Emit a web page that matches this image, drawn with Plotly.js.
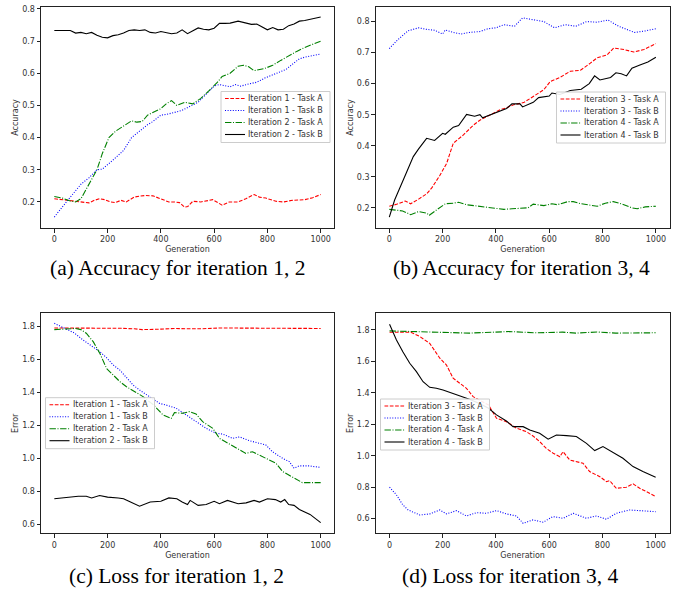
<!DOCTYPE html>
<html><head><meta charset="utf-8">
<script src="https://cdn.plot.ly/plotly-3.0.1.min.js"></script>
<style>body{margin:0;background:#fff}#chart{width:681px;height:590px}</style>
</head><body><div id="chart"></div>
<script>
// ---------- Panel (a): Accuracy, iterations 1 & 2 ----------
const a_i1A_x = [0,30,60,80,100,130,150,170,190,210,230,250,270,300,320,340,370,408,430,450,470,489,501,520,550,595,630,657,690,719,750,770,794,832,860,894,940,970,1000];
const a_i1A_y = [0.21,0.207,0.203,0.2,0.2,0.197,0.205,0.21,0.207,0.2,0.198,0.205,0.2,0.215,0.218,0.22,0.219,0.207,0.2,0.2,0.198,0.184,0.186,0.202,0.2,0.207,0.19,0.2,0.2,0.21,0.223,0.215,0.212,0.202,0.2,0.205,0.207,0.213,0.223];
const a_i1B_x = [0,20,50,80,100,130,160,180,200,220,240,260,290,320,350,370,400,420,440,460,480,510,540,570,600,620,640,660,680,700,730,760,790,810,840,870,900,920,940,970,1000];
const a_i1B_y = [0.153,0.175,0.205,0.235,0.255,0.275,0.3,0.302,0.315,0.33,0.345,0.36,0.4,0.42,0.44,0.45,0.47,0.472,0.475,0.48,0.485,0.497,0.51,0.535,0.56,0.565,0.562,0.558,0.565,0.56,0.567,0.572,0.585,0.592,0.6,0.612,0.632,0.645,0.65,0.655,0.66];
const a_i2A_x = [0,30,60,80,100,130,160,180,205,230,260,290,310,330,350,370,400,420,440,460,490,520,550,580,610,630,660,690,710,730,750,790,820,850,880,910,940,970,1000];
const a_i2A_y = [0.217,0.212,0.203,0.2,0.21,0.255,0.3,0.35,0.4,0.42,0.435,0.452,0.448,0.45,0.47,0.478,0.49,0.505,0.515,0.5,0.51,0.505,0.522,0.545,0.57,0.59,0.6,0.622,0.625,0.62,0.608,0.615,0.625,0.64,0.655,0.668,0.68,0.69,0.7];
const a_i2B_x = [0,60,80,100,120,140,160,180,200,220,240,260,280,300,320,340,360,380,400,420,440,460,480,500,520,540,560,580,600,620,640,660,690,720,740,760,780,800,820,840,860,880,900,920,940,960,980,1000];
const a_i2B_y = [0.733,0.733,0.725,0.727,0.723,0.727,0.718,0.712,0.71,0.717,0.72,0.725,0.733,0.735,0.733,0.735,0.727,0.725,0.73,0.727,0.723,0.725,0.735,0.723,0.733,0.741,0.737,0.735,0.74,0.755,0.755,0.756,0.762,0.757,0.752,0.753,0.745,0.735,0.742,0.735,0.737,0.748,0.753,0.762,0.764,0.767,0.771,0.775];

// ---------- Panel (b): Accuracy, iterations 3 & 4 ----------
const b_i3A_x = [0,30,60,80,110,140,160,190,215,240,278,316,341,378,416,440,466,504,541,579,604,642,679,717,754,779,817,842,880,917,955,1000];
const b_i3A_y = [0.205,0.212,0.222,0.213,0.228,0.245,0.265,0.305,0.343,0.408,0.435,0.467,0.483,0.5,0.516,0.522,0.532,0.539,0.559,0.58,0.607,0.621,0.64,0.643,0.666,0.683,0.693,0.715,0.71,0.702,0.71,0.729];
const b_i3B_x = [0,30,70,110,140,170,200,210,240,270,300,340,370,400,430,470,500,540,580,620,660,700,740,780,820,860,900,920,960,1000];
const b_i3B_y = [0.713,0.74,0.77,0.78,0.775,0.772,0.76,0.773,0.765,0.76,0.765,0.768,0.777,0.78,0.79,0.785,0.812,0.805,0.8,0.78,0.79,0.785,0.8,0.798,0.805,0.785,0.77,0.765,0.77,0.777];
const b_i4A_x = [0,50,80,110,140,150,180,210,240,260,290,340,380,400,430,460,500,520,540,580,610,630,670,690,720,750,780,810,840,870,910,930,960,1000];
const b_i4A_y = [0.195,0.19,0.178,0.188,0.183,0.176,0.195,0.213,0.215,0.218,0.21,0.205,0.2,0.2,0.195,0.197,0.2,0.2,0.212,0.207,0.213,0.21,0.22,0.22,0.213,0.21,0.205,0.215,0.22,0.213,0.2,0.197,0.203,0.205];
const b_i4B_x = [0,20,60,90,110,140,170,200,210,240,260,290,320,340,350,380,410,440,460,490,500,540,560,600,610,640,679,720,750,770,790,810,830,850,870,890,910,940,970,1000];
const b_i4B_y = [0.17,0.225,0.305,0.365,0.39,0.424,0.417,0.44,0.437,0.46,0.465,0.501,0.495,0.5,0.49,0.5,0.51,0.52,0.535,0.535,0.525,0.54,0.555,0.56,0.57,0.565,0.578,0.582,0.6,0.625,0.612,0.615,0.62,0.635,0.632,0.625,0.65,0.66,0.67,0.685];

// ---------- Panel (c): Loss, iterations 1 & 2 ----------
const c_i1A_x = [0,60,120,200,250,300,330,400,450,500,550,620,700,750,850,920,1000];
const c_i1A_y = [1.79,1.79,1.788,1.79,1.788,1.785,1.78,1.783,1.787,1.785,1.785,1.79,1.79,1.787,1.79,1.788,1.787];
const c_i1B_x = [0,25,50,75,108,140,171,196,221,246,271,296,320,358,395,420,458,495,532,570,607,632,670,695,732,769,794,819,857,882,900,919,956,1000];
const c_i1B_y = [1.818,1.8,1.78,1.76,1.717,1.68,1.646,1.61,1.566,1.535,1.49,1.444,1.414,1.374,1.333,1.323,1.303,1.263,1.222,1.182,1.152,1.147,1.121,1.13,1.107,1.091,1.081,1.04,1.0,0.98,0.94,0.954,0.954,0.945];
const c_i2A_x = [0,50,80,100,120,146,171,196,221,246,271,296,333,373,408,439,451,483,507,532,557,595,620,657,695,719,744,769,794,832,857,894,931,1000];
const c_i2A_y = [1.78,1.787,1.787,1.78,1.758,1.707,1.636,1.545,1.505,1.465,1.434,1.41,1.374,1.323,1.263,1.242,1.277,1.273,1.283,1.269,1.222,1.182,1.121,1.087,1.05,1.03,1.04,1.02,1.0,0.97,0.92,0.889,0.853,0.853];
const c_i2B_x = [0,60,90,120,140,170,200,240,260,280,320,360,400,430,460,480,500,510,540,570,600,620,650,690,720,750,770,800,830,850,865,880,900,920,960,1000];
const c_i2B_y = [0.755,0.765,0.77,0.77,0.76,0.775,0.765,0.76,0.755,0.74,0.71,0.735,0.74,0.76,0.755,0.735,0.72,0.745,0.715,0.72,0.74,0.725,0.745,0.725,0.73,0.745,0.735,0.755,0.75,0.735,0.75,0.72,0.715,0.69,0.66,0.61];

// ---------- Panel (d): Loss, iterations 3 & 4 ----------
const d_i3A_x = [0,80,114,151,189,214,239,264,289,314,372,402,439,477,514,539,564,589,615,640,652,677,702,727,752,790,815,827,852,890,915,940,965,1000];
const d_i3A_y = [1.785,1.785,1.758,1.715,1.62,1.577,1.493,1.461,1.429,1.376,1.323,1.238,1.217,1.175,1.153,1.126,1.09,1.047,1.016,0.994,1.026,0.973,0.963,0.952,0.899,0.867,0.835,0.842,0.793,0.8,0.821,0.793,0.772,0.74];
const d_i3B_x = [0,26,50,70,114,151,189,214,252,289,327,364,402,439,477,502,539,577,614,652,690,740,777,815,852,902,940,1000];
const d_i3B_y = [0.8,0.751,0.687,0.655,0.623,0.63,0.655,0.63,0.651,0.617,0.638,0.634,0.651,0.63,0.617,0.57,0.592,0.577,0.613,0.602,0.634,0.602,0.617,0.596,0.634,0.655,0.651,0.644];
const d_i4A_x = [0,100,200,300,450,550,650,700,780,850,1000];
const d_i4A_y = [1.794,1.79,1.785,1.78,1.79,1.782,1.786,1.78,1.787,1.78,1.782];
const d_i4B_x = [0,26,50,76,101,126,151,176,201,227,264,300,340,372,402,439,464,502,527,564,596,627,665,702,740,771,802,840,877,915,952,1000];
const d_i4B_y = [1.836,1.736,1.662,1.588,1.535,1.471,1.435,1.429,1.418,1.404,1.38,1.36,1.33,1.302,1.26,1.221,1.185,1.185,1.164,1.143,1.105,1.132,1.128,1.122,1.079,1.033,1.058,1.02,0.984,0.931,0.899,0.863];

// ---------- Labels ----------
const labels12 = ['Iteration 1 - Task A','Iteration 1 - Task B','Iteration 2 - Task A','Iteration 2 - Task B'];
const labels34 = ['Iteration 3 - Task A','Iteration 3 - Task B','Iteration 4 - Task A','Iteration 4 - Task B'];
const captions = ['(a) Accuracy for iteration 1, 2','(b) Accuracy for iteration 3, 4','(c) Loss for iteration 1, 2','(d) Loss for iteration 3, 4'];
const xTicks = [0,200,400,600,800,1000];
const accTicks = [0.2,0.3,0.4,0.5,0.6,0.7,0.8];
const errTicks = [0.6,0.8,1.0,1.2,1.4,1.6,1.8];

// ---------- Styles ----------
const W = 681, H = 590;
const styles = [
  {color:'#ff0000', dash:'3.7px,1.6px'},
  {color:'#0000ff', dash:'1px,1.6px'},
  {color:'#008000', dash:'6.4px,1.6px,1px,1.6px'},
  {color:'#000000', dash:'solid'}
];
const tickFont = {family:'DejaVu Sans, sans-serif', size:8, color:'#333'};

function tr(x, y, s, ax, name) {
  return {x:x, y:y, name:name, type:'scatter', mode:'lines', xaxis:'x'+ax, yaxis:'y'+ax,
          line:{color:styles[s].color, dash:styles[s].dash, width:1.1}, showlegend:false, hoverinfo:'skip'};
}
const data = [
  tr(a_i1A_x,a_i1A_y,0,'',labels12[0]), tr(a_i1B_x,a_i1B_y,1,'',labels12[1]),
  tr(a_i2A_x,a_i2A_y,2,'',labels12[2]), tr(a_i2B_x,a_i2B_y,3,'',labels12[3]),
  tr(b_i3A_x,b_i3A_y,0,'2',labels34[0]), tr(b_i3B_x,b_i3B_y,1,'2',labels34[1]),
  tr(b_i4A_x,b_i4A_y,2,'2',labels34[2]), tr(b_i4B_x,b_i4B_y,3,'2',labels34[3]),
  tr(c_i1A_x,c_i1A_y,0,'3',labels12[0]), tr(c_i1B_x,c_i1B_y,1,'3',labels12[1]),
  tr(c_i2A_x,c_i2A_y,2,'3',labels12[2]), tr(c_i2B_x,c_i2B_y,3,'3',labels12[3]),
  tr(d_i3A_x,d_i3A_y,0,'4',labels34[0]), tr(d_i3B_x,d_i3B_y,1,'4',labels34[1]),
  tr(d_i4A_x,d_i4A_y,2,'4',labels34[2]), tr(d_i4B_x,d_i4B_y,3,'4',labels34[3])
];

function xax(domain, range, anchor) {
  return {domain:domain, range:range, anchor:anchor, tickvals:xTicks, ticks:'outside', ticklen:3.5,
    tickwidth:1, tickcolor:'#222', showline:true, mirror:true, linecolor:'#222', linewidth:1,
    showgrid:false, zeroline:false, tickfont:tickFont,
    title:{text:'Generation', font:tickFont, standoff:3}};
}
function yax(domain, range, anchor, ticks, title) {
  return {domain:domain, range:range, anchor:anchor, tickvals:ticks, tickformat:'.1f', ticks:'outside', ticklen:3.5,
    tickwidth:1, tickcolor:'#222', showline:true, mirror:true, linecolor:'#222', linewidth:1,
    showgrid:false, zeroline:false, tickfont:tickFont,
    title:{text:title, font:tickFont, standoff:2}};
}
const dxL = [41/W, 334/W], dxR = [375.7/W, 669.5/W];
const dyT = [1-228/H, 1-7/H], dyB = [1-533.4/H, 1-313.3/H];

// ---------- Legends (box + samples + text) ----------
const shapes = [], annotations = [];
function px(x){return x/W;} function py(y){return 1-y/H;}
function legendBox(left, top, labels) {
  shapes.push({type:'rect', xref:'paper', yref:'paper', x0:px(left), x1:px(left+109), y0:py(top), y1:py(top+51),
    fillcolor:'rgba(255,255,255,0.9)', line:{color:'#cccccc', width:1}, layer:'above'});
  labels.forEach((lab, i) => {
    const yy = top + 7 + 12*i;
    shapes.push({type:'line', xref:'paper', yref:'paper', x0:px(left+4), x1:px(left+24), y0:py(yy), y1:py(yy),
      line:{color:styles[i].color, dash:styles[i].dash, width:1.1}, layer:'above'});
    annotations.push({xref:'paper', yref:'paper', x:px(left+26), y:py(yy), xanchor:'left', yanchor:'middle',
      text:lab, showarrow:false, font:tickFont, borderpad:0});
  });
}
legendBox(221, 91.5, labels12);
legendBox(556.5, 92, labels34);
legendBox(45.5, 397.7, labels12);
legendBox(380.5, 399, labels34);

const capFont = {family:'"Liberation Serif", "Times New Roman", serif', size:21.5, color:'#000'};
[[177.5,268],[521,268],[176,576],[510,576]].forEach((p, i) => {
  annotations.push({xref:'paper', yref:'paper', x:px(p[0]), y:py(p[1]), xanchor:'center', yanchor:'middle',
    text:captions[i], showarrow:false, font:capFont});
});

const layout = {
  width:W, height:H, margin:{l:0,r:0,t:0,b:0}, paper_bgcolor:'#fff', plot_bgcolor:'#fff',
  showlegend:false,
  xaxis: xax(dxL, [-50,1050], 'y'),
  yaxis: yax(dyT, [0.119,0.806], 'x', accTicks, 'Accuracy'),
  xaxis2: xax(dxR, [-51,1051], 'y2'),
  yaxis2: yax(dyT, [0.135,0.847], 'x2', accTicks, 'Accuracy'),
  xaxis3: xax(dxL, [-50,1050], 'y3'),
  yaxis3: yax(dyB, [0.545,1.879], 'x3', errTicks, 'Error'),
  xaxis4: xax(dxR, [-52,1052], 'y4'),
  yaxis4: yax(dyB, [0.506,1.906], 'x4', errTicks, 'Error'),
  shapes:shapes, annotations:annotations
};
Plotly.newPlot('chart', data, layout, {staticPlot:true, displayModeBar:false});
</script></body></html>
